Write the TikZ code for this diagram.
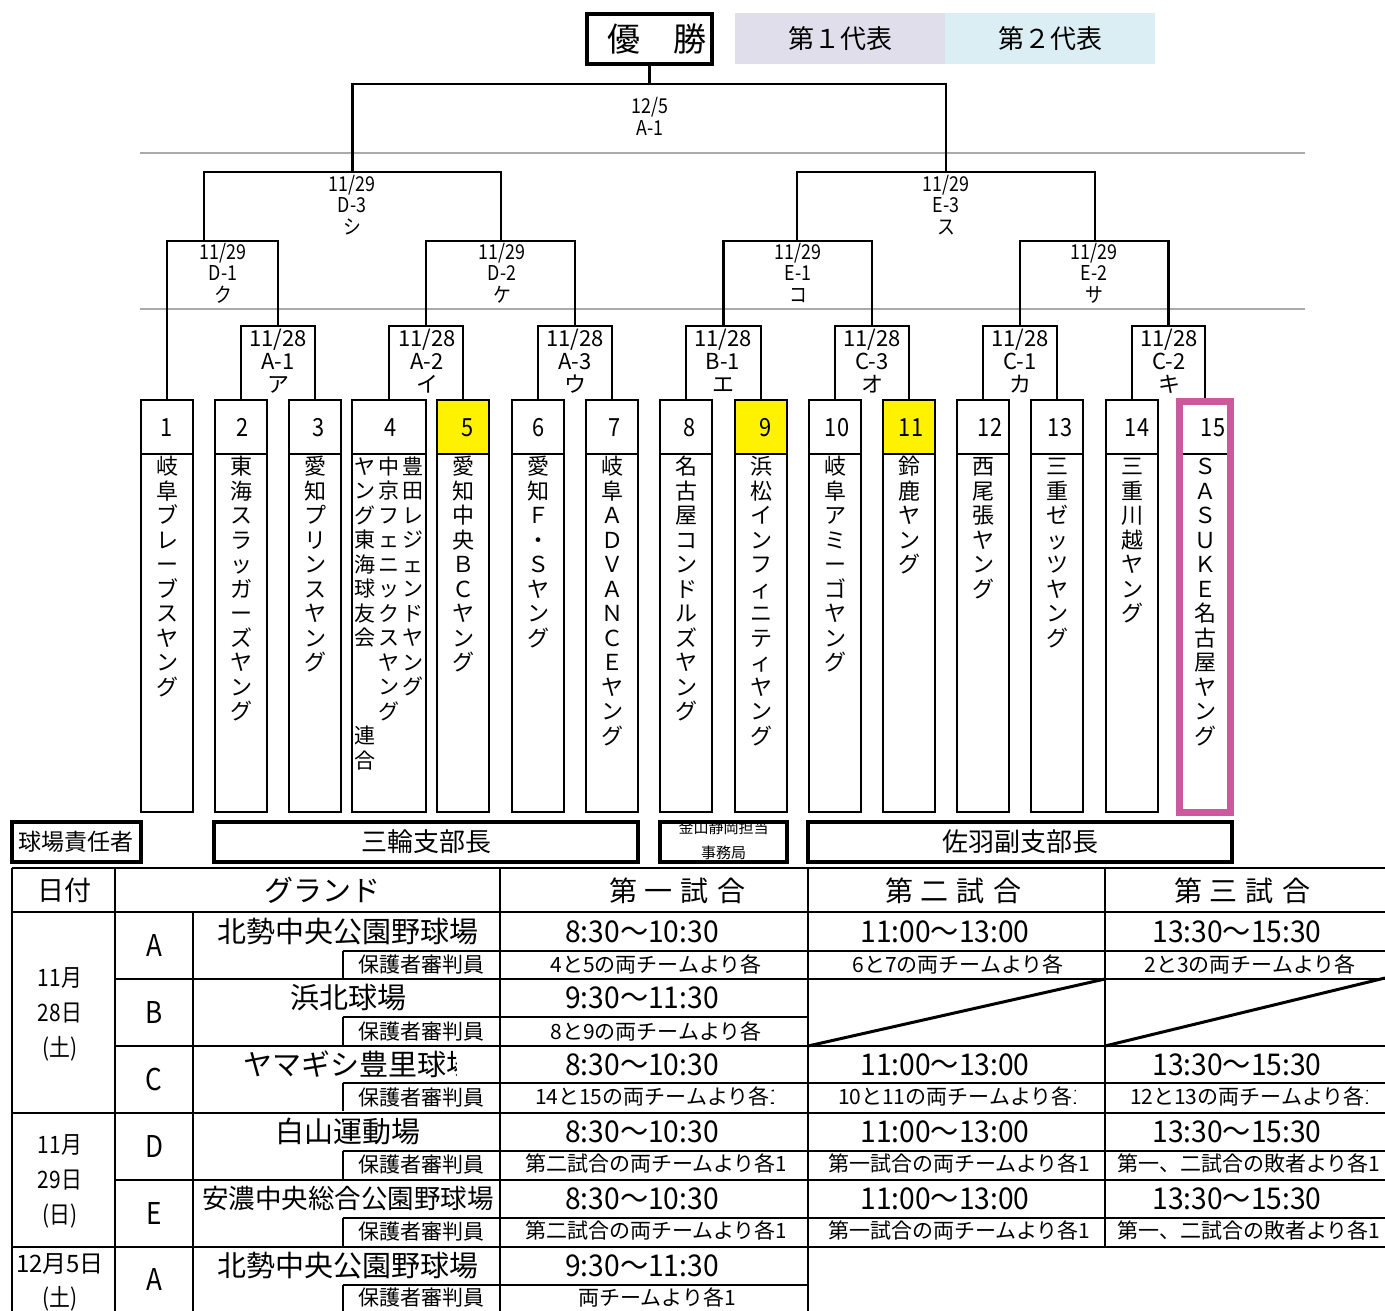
\documentclass[tikz,border=0pt]{standalone}
\usepackage{fontspec}
\setmainfont{Noto Sans CJK JP}
\newfontfamily\cnd[FakeStretch=0.87]{Noto Sans CJK JP}
\newfontfamily\tmf[FakeStretch=0.94]{Noto Sans CJK JP}
\newcommand\fsz[1]{\fontsize{#1}{#1}\selectfont}
\definecolor{lav}{RGB}{225,222,236}
\definecolor{lblue}{RGB}{219,238,243}
\definecolor{mag}{RGB}{204,88,158}
\definecolor{gline}{RGB}{170,170,170}
\tikzset{
 br/.style={line width=2.5pt},
 tb/.style={line width=2.5pt},
 gl/.style={line width=1.2pt, gline},
 numcell/.style={draw, line width=2.5pt, minimum height=54pt, inner sep=0pt, outer sep=0pt, anchor=north},
 namecell/.style={draw, line width=2.5pt, minimum height=358pt, inner sep=0pt, outer sep=0pt, anchor=north},
 vch/.style={anchor=base, inner sep=0pt, outer sep=0pt},
 lab/.style={anchor=base, inner sep=0pt, outer sep=0pt},
 txt/.style={anchor=base, inner sep=0pt, outer sep=0pt},
 resp/.style={draw, line width=4pt, inner sep=0pt, outer sep=0pt},
}
\newcommand\vname[4][22]{%
  \foreach \ch [count=\i] in {#4}{%
    \node[vch, font=\fsz{#1}] (v#2-\i) at (#3,{466.5+24.5*(\i-1)+0.38*#1}) {\ch};
  }}
\newcommand\mlab[7][\cnd]{%
  \foreach \l [count=\i] in {#7}{%
    \node[lab, font=#1\fsz{#6}] (#2-\i) at (#3,{#4+#5*(\i-1)+0.36*#6}) {\l};
  }}
\newcommand\ctext[7]{%
  \begin{scope}
  \clip ({#2-4},{#3-22}) rectangle (#4,{#3+22});
  \node[txt, anchor=base west, font=#7] (#1) at (#2,{#3+0.37*21}) {#5#6};
  \end{scope}}
\begin{document}
\begin{tikzpicture}[x=1pt,y=-1pt]
\useasboundingbox (0,0) rectangle (1385,1311);
\fill[white] (0,0) rectangle (1385,1311);

% gray guide lines
\draw[gl] (140,153) -- (1305,153);
\draw[gl] (140,309) -- (1305,309);

% champion and legend
\node[draw, line width=4pt, minimum width=125pt, minimum height=50pt, inner sep=0pt, outer sep=0pt, font=\fsz{33}] (champ) at (649.5,39) {\hspace*{14pt}優　勝};
\node[fill=lav, minimum width=210pt, minimum height=51pt, inner sep=0pt, anchor=north west, font=\fsz{26}] (leg1) at (735,13) {第１代表};
\node[fill=lblue, minimum width=210pt, minimum height=51pt, inner sep=0pt, anchor=north west, font=\fsz{26}] (leg2) at (945,13) {第２代表};

% team boxes
\foreach \n/\cx/\w/\fc in {1/167/52/white,2/241/52/white,3/315/52/white,4/389/74/white,5/463/52/yellow,6/538/52/white,7/612/52/white,8/686/52/white,9/761/52/yellow,10/835/52/white,11/909/52/yellow,12/983/52/white,13/1057/52/white,14/1132/52/white,15/1205/52/white}{
  \node[numcell, minimum width=\w pt, fill=\fc] (n\n) at (\cx,400) {};
  \node[namecell, minimum width=\w pt] (b\n) at (\cx,454) {};
}
\foreach \n/\nx in {1/167,2/243,3/319,4/391,5/468,6/539,7/615,8/690,9/766,10/837,11/911,12/990,13/1060,14/1137,15/1213}{
  \node[txt, font=\cnd\fsz{25}] (nt\n) at (\nx,436) {\n};
}

% bracket coordinates
\coordinate (ma1) at (278,326);
\coordinate (ma2) at (426,326);
\coordinate (ma3) at (575,326);
\coordinate (mb1) at (723.5,326);
\coordinate (mc3) at (872,326);
\coordinate (mc1) at (1020,326);
\coordinate (mc2) at (1168.5,326);
\coordinate (md1) at (204,241);
\coordinate (md2) at (501,241);
\coordinate (me1) at (797,241);
\coordinate (me2) at (1095,241);
\coordinate (md3) at (352.5,172);
\coordinate (me3) at (946,172);
\coordinate (mf) at (649.5,84);

\draw[br] (n2.north) |- (ma1) -| (n3.north);
\draw[br] (n4.north) |- (ma2) -| (n5.north);
\draw[br] (n6.north) |- (ma3) -| (n7.north);
\draw[br] (n8.north) |- (mb1) -| (n9.north);
\draw[br] (n10.north) |- (mc3) -| (n11.north);
\draw[br] (n12.north) |- (mc1) -| (n13.north);
\draw[br] (n14.north) |- (mc2) -| (n15.north);
\draw[br] (n1.north) |- (md1) -| (ma1);
\draw[br] (ma2) |- (md2) -| (ma3);
\draw[br] (mb1) |- (me1) -| (mc3);
\draw[br] (mc1) |- (me2) -| (mc2);
\draw[br] (md1) |- (md3) -| (md2);
\draw[br] (me1) |- (me3) -| (me2);
\draw[br] (md3) |- (mf) -| (me3);
\draw[br] (mf) -- (champ.south);

% magenta highlight of team 15
\draw[mag, line width=7pt] (1179.5,401) rectangle (1230.5,812);
\draw[line width=2.5pt] (1183,454) -- (1227,454);

% match labels
\mlab{lf}{650}{106}{22}{20.5}{{12/5},A-1}
\mlab{ld3}{352}{184}{21.5}{20.5}{{11/29},D-3,シ}
\mlab{le3}{946}{184}{21.5}{20.5}{{11/29},E-3,ス}
\mlab{ld1}{223}{252}{21.5}{20.5}{{11/29},D-1,ク}
\mlab{ld2}{502}{252}{21.5}{20.5}{{11/29},D-2,ケ}
\mlab{le1}{798}{252}{21.5}{20.5}{{11/29},E-1,コ}
\mlab{le2}{1094}{252}{21.5}{20.5}{{11/29},E-2,サ}
\mlab[\rmfamily]{la1}{278}{339}{23}{22}{{11/28},A-1,ア}
\mlab[\rmfamily]{la2}{427}{339}{23}{22}{{11/28},A-2,イ}
\mlab[\rmfamily]{la3}{575}{339}{23}{22}{{11/28},A-3,ウ}
\mlab[\rmfamily]{lb1}{723}{339}{23}{22}{{11/28},B-1,エ}
\mlab[\rmfamily]{lc3}{872}{339}{23}{22}{{11/28},C-3,オ}
\mlab[\rmfamily]{lc1}{1020}{339}{23}{22}{{11/28},C-1,カ}
\mlab[\rmfamily]{lc2}{1169}{339}{23}{22}{{11/28},C-2,キ}

% team names (vertical)
\vname{1}{167}{岐,阜,ブ,レ,ー,ブ,ス,ヤ,ン,グ}
\vname{2}{241}{東,海,ス,ラ,ッ,ガ,ー,ズ,ヤ,ン,グ}
\vname{3}{315}{愛,知,プ,リ,ン,ス,ヤ,ン,グ}
\vname[21]{4c}{413}{豊,田,レ,ジ,ェ,ン,ド,ヤ,ン,グ}
\vname[21]{4b}{389}{中,京,フ,ェ,ニ,ッ,ク,ス,ヤ,ン,グ}
\vname[21]{4a}{365}{ヤ,ン,グ,東,海,球,友,会,{},{},{},連,合}
\vname{5}{463}{愛,知,中,央,Ｂ,Ｃ,ヤ,ン,グ}
\vname{6}{538}{愛,知,Ｆ,・,Ｓ,ヤ,ン,グ}
\vname{7}{612}{岐,阜,Ａ,Ｄ,Ｖ,Ａ,Ｎ,Ｃ,Ｅ,ヤ,ン,グ}
\vname{8}{686}{名,古,屋,コ,ン,ド,ル,ズ,ヤ,ン,グ}
\vname{9}{761}{浜,松,イ,ン,フ,ィ,ニ,テ,ィ,ヤ,ン,グ}
\vname{10}{835}{岐,阜,ア,ミ,ー,ゴ,ヤ,ン,グ}
\vname{11}{909}{鈴,鹿,ヤ,ン,グ}
\vname{12}{983}{西,尾,張,ヤ,ン,グ}
\vname{13}{1057}{三,重,ゼ,ッ,ツ,ヤ,ン,グ}
\vname{14}{1132}{三,重,川,越,ヤ,ン,グ}
\vname{15}{1205}{Ｓ,Ａ,Ｓ,Ｕ,Ｋ,Ｅ,名,古,屋,ヤ,ン,グ}

% responsible persons row
\node[txt, font=\fsz{15}] (kana1) at (723.5,833) {金山静岡担当};
\node[txt, font=\fsz{15}] (kana2) at (723.5,858) {事務局};
\node[resp, minimum width=129pt, minimum height=40pt, font=\fsz{23}] (r1) at (76.5,842) {球場責任者};
\node[resp, minimum width=424pt, minimum height=40pt, font=\fsz{26}] (r2) at (426,842) {三輪支部長};
\node[resp, minimum width=127pt, minimum height=40pt] (r3) at (723.5,842) {};
\node[resp, minimum width=424pt, minimum height=40pt, font=\fsz{26}] (r4) at (1020,842) {佐羽副支部長};

% table lines
\draw[tb] (12,868) -- (1385,868);
\draw[tb] (12,912) -- (1385,912);
\draw[tb] (115,979) -- (1385,979);
\draw[tb] (115,1046) -- (1385,1046);
\draw[tb] (12,1113) -- (1385,1113);
\draw[tb] (115,1180) -- (1385,1180);
\draw[tb] (12,1247) -- (1385,1247);
\draw[tb] (343,951) -- (1385,951);
\draw[tb] (343,1017) -- (808,1017);
\draw[tb] (343,1083) -- (1385,1083);
\draw[tb] (343,1151) -- (1385,1151);
\draw[tb] (343,1218) -- (1385,1218);
\draw[tb] (343,1285) -- (808,1285);
\draw[tb] (12,868) -- (12,1311);
\draw[tb] (115,868) -- (115,1311);
\draw[tb] (193,912) -- (193,1311);
\draw[tb] (500,868) -- (500,1311);
\draw[tb] (808,868) -- (808,1311);
\draw[tb] (1105,868) -- (1105,1247);
\foreach \y in {951,1017,1083,1151,1218,1285}{\draw[tb] (343,\y) -- (343,{\y+28});}
\draw[line width=3pt] (808,1046) -- (1105,979);
\draw[line width=3pt] (1105,1046) -- (1385,978);

% header
\node[txt, font=\fsz{27}] (h1) at (64,900) {日付};
\node[txt, font=\fsz{29}] (h2) at (322,901) {グランド};
\node[txt, font=\fsz{28}] (h3) at (677,901) {第\hspace{8pt}一\hspace{8pt}試\hspace{8pt}合};
\node[txt, font=\fsz{28}] (h4) at (953,901) {第\hspace{8pt}二\hspace{8pt}試\hspace{8pt}合};
\node[txt, font=\fsz{28}] (h5) at (1242,901) {第\hspace{8pt}三\hspace{8pt}試\hspace{8pt}合};

% dates
\node[txt, font=\cnd\fsz{24}] (d1) at (60,986) {11月};
\node[txt, font=\cnd\fsz{24}] (d2) at (60,1021) {28日};
\node[txt, font=\cnd\fsz{24}] (d3) at (60,1056) {(土)};
\node[txt, font=\cnd\fsz{24}] (d4) at (60,1153) {11月};
\node[txt, font=\cnd\fsz{24}] (d5) at (60,1188) {29日};
\node[txt, font=\cnd\fsz{24}] (d6) at (60,1223) {(日)};
\node[txt, font=\fsz{24}] (d7) at (60,1272) {12月5日};
\node[txt, font=\cnd\fsz{24}] (d8) at (60,1306) {(土)};

% ground letters
\node[txt, font=\cnd\fsz{30}] (gA) at (154,956) {A};
\node[txt, font=\cnd\fsz{30}] (gB) at (154,1023) {B};
\node[txt, font=\cnd\fsz{30}] (gC) at (154,1090) {C};
\node[txt, font=\cnd\fsz{30}] (gD) at (154,1157) {D};
\node[txt, font=\cnd\fsz{30}] (gE) at (154,1224) {E};
\node[txt, font=\cnd\fsz{30}] (gA2) at (154,1290) {A};

% ground names
\node[txt, font=\fsz{29}] (gn1) at (348,942) {北勢中央公園野球場};
\node[txt, font=\fsz{29}] (gn2) at (348,1008) {浜北球場};
\begin{scope}
\clip (200,1050) rectangle (456,1082);
\node[txt, anchor=base west, font=\fsz{29}] (gn3) at (243,1075) {ヤマギシ豊里球場};
\end{scope}
\node[txt, font=\fsz{29}] (gn4) at (348,1142) {白山運動場};
\node[txt, font=\fsz{26.5}] (gn5) at (348,1208) {安濃中央総合公園野球場};
\node[txt, font=\fsz{29}] (gn6) at (348,1276) {北勢中央公園野球場};
\foreach \k/\y in {1/964,2/1031,3/1097,4/1164,5/1231,6/1297}{
  \node[txt, font=\fsz{21}] (hg\k) at (421,{\y+8}) {保護者審判員};
}

% times
\foreach \k/\y in {1/931,3/1064,4/1131,5/1198}{
  \node[txt, font=\tmf\fsz{30}] (ta\k) at (642,{\y+11}) {8:30〜10:30};
  \node[txt, font=\tmf\fsz{30}] (tb\k) at (945,{\y+11}) {11:00〜13:00};
  \node[txt, font=\tmf\fsz{30}] (tc\k) at (1237,{\y+11}) {13:30〜15:30};
}
\node[txt, font=\tmf\fsz{30}] (ta2) at (642,1008) {9:30〜11:30};
\node[txt, font=\tmf\fsz{30}] (ta6) at (642,1276) {9:30〜11:30};

% referee rows
\node[txt, font=\fsz{21}] (sa1) at (656,972) {4と5の両チームより各};
\node[txt, font=\fsz{21}] (sb1) at (958,972) {6と7の両チームより各};
\node[txt, font=\fsz{21}] (sc1) at (1250,972) {2と3の両チームより各};
\node[txt, font=\fsz{21}] (sa2) at (656,1039) {8と9の両チームより各};
\ctext{sa3}{535}{1097}{773}{14と15の両チームより各}{1}{\fsz{21}}
\ctext{sb3}{838}{1097}{1075}{10と11の両チームより各}{1}{\fsz{21}}
\ctext{sc3}{1130}{1097}{1367}{12と13の両チームより各}{1}{\fsz{21}}
\ctext{sa4}{525}{1164}{784}{第二試合の両チームより各}{1}{\fsz{21}}
\ctext{sb4}{828}{1164}{1088}{第一試合の両チームより各}{1}{\fsz{21}}
\ctext{sc4}{1117}{1164}{1385}{第一、二試合の敗者より各}{1}{\fsz{21}}
\ctext{sa5}{525}{1231}{784}{第二試合の両チームより各}{1}{\fsz{21}}
\ctext{sb5}{828}{1231}{1088}{第一試合の両チームより各}{1}{\fsz{21}}
\ctext{sc5}{1117}{1231}{1385}{第一、二試合の敗者より各}{1}{\fsz{21}}
\node[txt, font=\fsz{21}] (sa6) at (657,1305) {両チームより各1};
\end{tikzpicture}
\end{document}
